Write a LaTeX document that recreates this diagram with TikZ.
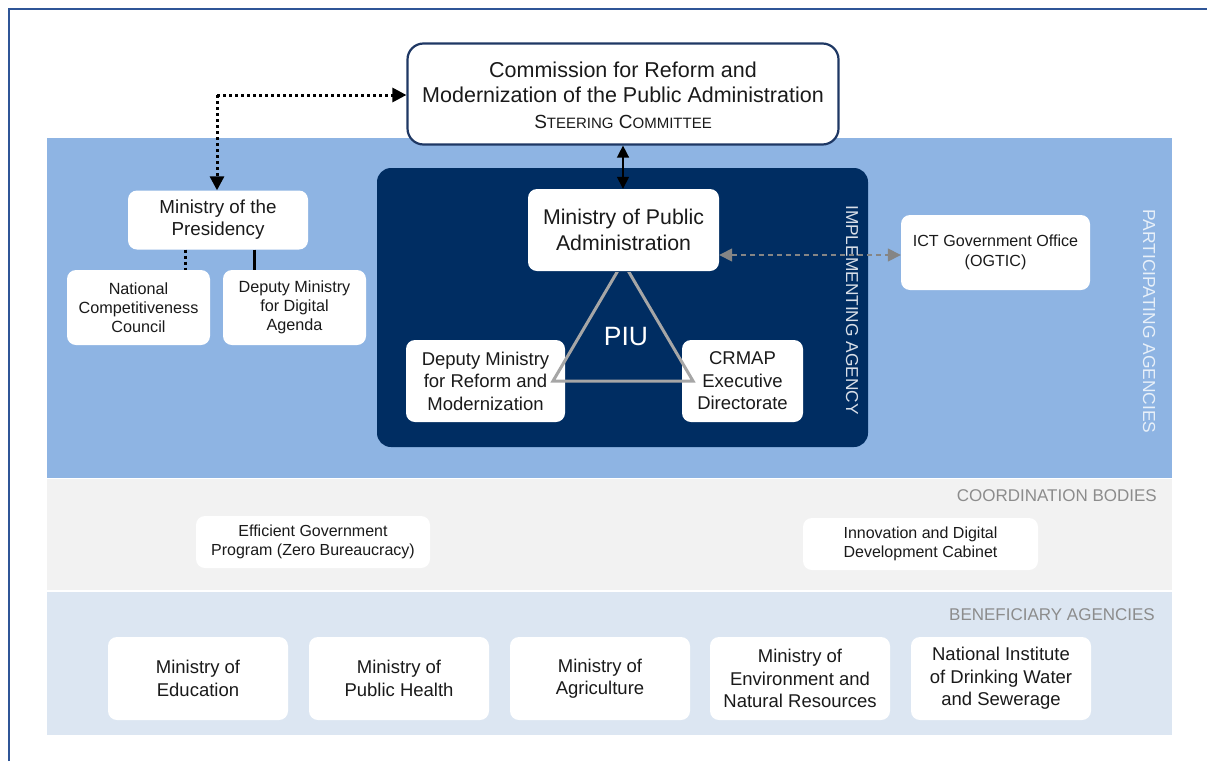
\documentclass[tikz,border=0pt]{standalone}
\usepackage{fontspec}
\setmainfont{Liberation Sans}
\usetikzlibrary{arrows.meta}
\definecolor{frameblue}{HTML}{2F5597}
\definecolor{partblue}{HTML}{8EB4E3}
\definecolor{coordgray}{HTML}{F2F2F2}
\definecolor{benefblue}{HTML}{DCE6F2}
\definecolor{implnavy}{HTML}{002D62}
\definecolor{commborder}{HTML}{1F3864}
\definecolor{txt}{HTML}{1A1A1A}
\definecolor{tri}{HTML}{A6A6A6}
\definecolor{labgray}{HTML}{8C8C8C}
\newcommand{\fsz}[2]{\fontsize{#1pt}{#2pt}\selectfont}
\begin{document}
\begin{tikzpicture}[x=1pt,y=-1pt,
  whitebox/.style={draw=none,fill=white,rounded corners=9pt,align=center,inner sep=0pt,text=txt},
  bandlabel/.style={inner sep=0pt},
  tipbig/.style={-{Triangle[length=14pt,width=14pt]}},
  dotline/.style={line width=3pt,dash pattern=on 3pt off 3pt},
]
\useasboundingbox (0,0) rectangle (1207,761);
\fill[white] (0,0) rectangle (1207,761);
% frame
\draw[frameblue,line width=2.2pt] (9,761) -- (9,9) -- (1207,9);
% bands
\fill[partblue] (47,138) rectangle (1172,478);
\fill[coordgray] (47,479) rectangle (1172,590);
\fill[benefblue] (47,592) rectangle (1172,735);
% implementing agency
\fill[implnavy,rounded corners=14pt] (377,168) rectangle (868,447);
% labels
\node[bandlabel,text=white!80!partblue,rotate=-90,font=\fsz{17.4}{20}] (lpart) at (1149,321.5) {PARTICIPATING AGENCIES};
\node[bandlabel,text=white!85!implnavy,rotate=-90,font=\fsz{17.3}{20}] (limpl) at (852,310) {IMPLEMENTING AGENCY};
\node[bandlabel,text=labgray,anchor=east,font=\fsz{17}{20}] (lcoord) at (1157,495.5) {COORDINATION BODIES};
\node[bandlabel,text=labgray,anchor=east,font=\fsz{17}{20}] (lbenef) at (1155,614.5) {BENEFICIARY AGENCIES};
% commission
\node[whitebox,draw=commborder,line width=2.2pt,rounded corners=16pt,minimum width=431pt,minimum height=101pt] (comm) at (623,94) {};
\node[align=center,inner sep=0pt,text=txt,font=\fsz{21.5}{25.5}] (commtxt) at (623,95) {Commission for Reform and\\Modernization of the Public Administration\\{\fsz{19}{25}S{\fsz{15}{25}TEERING} C{\fsz{15}{25}OMMITTEE}}};
% ministry of presidency group
\node[whitebox,minimum width=180pt,minimum height=59pt,font=\fsz{18.8}{22}] (pres) at (218,220) {Ministry of the\\Presidency};
\node[whitebox,minimum width=143pt,minimum height=75pt,font=\fsz{16.2}{19}] (ncc) at (138.5,307.5) {National\\Competitiveness\\Council};
\node[whitebox,minimum width=143pt,minimum height=75pt,font=\fsz{16.2}{19}] (dmda) at (294.5,307.5) {Deputy Ministry\\for Digital\\Agenda};
\draw[dotline] (pres.south -| 185,0) -- (ncc.north -| 185,0);
\draw[line width=3pt] (pres.south -| 254,0) -- (dmda.north -| 254,0);
% dotted arrow
\coordinate (corner) at (217,95);
\draw[dotline,tipbig] (corner) -- (comm.west |- corner);
\draw[dotline,tipbig] (corner) -- (pres.north -| corner);
% PIU
\node[whitebox,minimum width=191pt,minimum height=82pt,font=\fsz{21.3}{26}] (mpa) at (623.5,230) {Ministry of Public\\Administration};
\node[whitebox,minimum width=159pt,minimum height=82pt,font=\fsz{18.5}{22.5}] (dmrm) at (485.5,381) {Deputy Ministry\\for Reform and\\Modernization};
\node[whitebox,minimum width=121pt,minimum height=82pt,font=\fsz{18.5}{22.5}] (crmap) at (742.5,381) {CRMAP\\Executive\\Directorate};
\coordinate (tA) at (623,262);
\coordinate (tL) at (553,381);
\coordinate (tR) at (693,381);
\begin{scope}
\clip (0,272) rectangle (1207,761);
\draw[tri,line width=3pt,line join=miter] (tA) -- (tL) -- (tR) -- cycle;
\end{scope}
\node[text=white,font=\fsz{26.5}{30},inner sep=0pt] (piu) at (626,337) {PIU};
\draw[line width=1.5pt,{Triangle[length=12pt,width=12pt]}-{Triangle[length=12pt,width=12pt]}] (comm.south -| 623,0) -- (mpa.north -| 623,0);
% ICT
\node[whitebox,minimum width=189pt,minimum height=75pt,font=\fsz{16.1}{20}] (ict) at (995.5,252.5) {ICT Government Office\\(OGTIC)};
\draw[tri!80!black,line width=1.5pt,dash pattern=on 5pt off 4pt,{Triangle[length=13pt,width=13pt]}-{Triangle[length=13pt,width=13pt]}] (mpa.east |- 0,255) -- (ict.west |- 0,255);
% coordination
\node[whitebox,minimum width=234pt,minimum height=52pt,font=\fsz{16}{19.5}] (egp) at (313,542) {Efficient Government\\Program (Zero Bureaucracy)};
\node[whitebox,minimum width=235pt,minimum height=52pt,font=\fsz{16}{19.5}] (idd) at (920.5,544) {Innovation and Digital\\Development Cabinet};
% beneficiaries
\node[whitebox,minimum width=180pt,minimum height=83pt,font=\fsz{18.5}{22.5}] (edu) at (198,678.5) {Ministry of\\Education};
\node[whitebox,minimum width=180pt,minimum height=83pt,font=\fsz{18.5}{22.5}] (hea) at (399,678.5) {Ministry of\\Public Health};
\node[whitebox,minimum width=180pt,minimum height=83pt,font=\fsz{18.5}{22.5}] (agr) at (600,678.5) {Ministry of\\Agriculture};
\node[whitebox,minimum width=180pt,minimum height=83pt,font=\fsz{18.5}{22.5}] (env) at (800,678.5) {Ministry of\\Environment and\\Natural Resources};
\node[whitebox,minimum width=180pt,minimum height=83pt,font=\fsz{18.5}{22.5}] (inap) at (1001,678.5) {National Institute\\of Drinking Water\\and Sewerage};
\end{tikzpicture}
\end{document}
